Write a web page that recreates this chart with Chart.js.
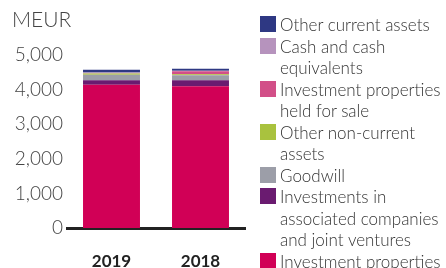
<!DOCTYPE html>
<html lang="en">
<head>
  <meta charset="UTF-8" />
  <title>Assets MEUR</title>
  <script src="https://cdn.jsdelivr.net/npm/chart.js"></script>
  <style>
    body {
      margin: 0;
      background: #fff;
      font-family: 'Lato', sans-serif;
    }
    .wrap {
      position: relative;
      width: 446px;
      height: 268px;
    }
    #legend {
      position: absolute;
      left: 260px;
      top: 14px;
      margin: 0;
      padding: 0;
      list-style: none;
      font-size: 17px;
      font-weight: 300;
      line-height: 21.5px;
      color: #333;
    }
    #legend li {
      position: relative;
      padding-left: 20px;
      white-space: pre-line;
    }
    #legend span {
      position: absolute;
      left: 0;
      top: 2px;
      width: 16px;
      height: 16px;
    }
  </style>
</head>
<body>
  <div class="wrap">
    <canvas id="assetsChart" width="446" height="268"></canvas>
    <ul id="legend"></ul>
  </div>

  <script>
    const years = ['2019', '2018'];

    // stacked bottom -> top
    const investmentProperties = [4142, 4104];
    const associatedCompanies = [136, 173];
    const goodwill = [153, 145];
    const otherNonCurrent = [43, 29];
    const heldForSale = [5, 87];
    const cashEquivalents = [20, 10];
    const otherCurrent = [78, 58];

    const yTicks = [0, 1000, 2000, 3000, 4000, 5000];

    const datasets = [
      { label: 'Investment properties', data: investmentProperties, backgroundColor: '#d10056' },
      { label: 'Investments in\nassociated companies\nand joint ventures', data: associatedCompanies, backgroundColor: '#6a1b70' },
      { label: 'Goodwill', data: goodwill, backgroundColor: '#9c9ea8' },
      { label: 'Other non-current\nassets', data: otherNonCurrent, backgroundColor: '#a9c23e' },
      { label: 'Investment properties\nheld for sale', data: heldForSale, backgroundColor: '#d24f88' },
      { label: 'Cash and cash\nequivalents', data: cashEquivalents, backgroundColor: '#b693bd' },
      { label: 'Other current assets', data: otherCurrent, backgroundColor: '#2e3883' }
    ];
    datasets.forEach(d => {
      d.barPercentage = 0.64;
      d.categoryPercentage = 1;
      d.borderWidth = 0;
    });

    const chart = new Chart(document.getElementById('assetsChart'), {
      type: 'bar',
      data: { labels: years, datasets: datasets },
      options: {
        responsive: false,
        animation: false,
        layout: { padding: { left: 12, right: 201, top: 0, bottom: 0 } },
        plugins: {
          legend: { display: false },
          tooltip: { enabled: false },
          title: {
            display: true,
            text: 'MEUR',
            align: 'start',
            color: '#444',
            font: { family: 'Lato', size: 21, weight: '300', lineHeight: 1.2 },
            padding: { top: 8, bottom: 22 }
          }
        },
        scales: {
          x: {
            stacked: true,
            afterFit: scale => { scale.height = 40; },
            grid: { display: false, drawTicks: false },
            border: { display: true, color: '#222', width: 3 },
            ticks: {
              color: '#222',
              padding: 23,
              font: { family: 'Lato', size: 17, weight: 'bold' }
            }
          },
          y: {
            stacked: true,
            min: 0,
            max: 5000,
            afterFit: scale => { scale.width = 55; },
            afterBuildTicks: scale => { scale.ticks = yTicks.map(v => ({ value: v })); },
            grid: { display: false, drawTicks: false },
            border: { display: false },
            ticks: {
              color: '#444',
              padding: 4,
              font: { family: 'Lato', size: 19, weight: '300' },
              callback: v => v.toLocaleString('en-US')
            }
          }
        }
      }
    });

    // legend, top of stack first
    const legend = document.getElementById('legend');
    datasets.slice().reverse().forEach(d => {
      const li = document.createElement('li');
      li.innerHTML = `<span style="background:${d.backgroundColor}"></span>${d.label}`;
      legend.appendChild(li);
    });
  </script>
</body>
</html>
